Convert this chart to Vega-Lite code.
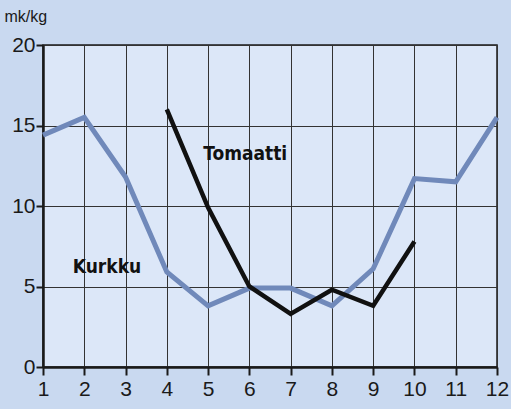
{
  "$schema": "https://vega.github.io/schema/vega-lite/v6.json",
  "width": 454,
  "height": 322,
  "autosize": {"type": "none"},
  "padding": {"left": 43, "top": 45, "right": 14, "bottom": 42},
  "background": "#c9d9f0",
  "config": {
    "view": {"fill": "#dce7f8", "stroke": "#1a1a1a", "strokeWidth": 1.5},
    "font": "Liberation Sans"
  },
  "datasets": {
    "series": [
      {"kk": 1, "hinta": 14.4, "tuote": "Kurkku"},
      {"kk": 2, "hinta": 15.5, "tuote": "Kurkku"},
      {"kk": 3, "hinta": 11.8, "tuote": "Kurkku"},
      {"kk": 4, "hinta": 5.9, "tuote": "Kurkku"},
      {"kk": 5, "hinta": 3.8, "tuote": "Kurkku"},
      {"kk": 6, "hinta": 4.9, "tuote": "Kurkku"},
      {"kk": 7, "hinta": 4.9, "tuote": "Kurkku"},
      {"kk": 8, "hinta": 3.8, "tuote": "Kurkku"},
      {"kk": 9, "hinta": 6.1, "tuote": "Kurkku"},
      {"kk": 10, "hinta": 11.7, "tuote": "Kurkku"},
      {"kk": 11, "hinta": 11.5, "tuote": "Kurkku"},
      {"kk": 12, "hinta": 15.5, "tuote": "Kurkku"},
      {"kk": 4, "hinta": 16.0, "tuote": "Tomaatti"},
      {"kk": 5, "hinta": 9.9, "tuote": "Tomaatti"},
      {"kk": 6, "hinta": 5.0, "tuote": "Tomaatti"},
      {"kk": 7, "hinta": 3.3, "tuote": "Tomaatti"},
      {"kk": 8, "hinta": 4.8, "tuote": "Tomaatti"},
      {"kk": 9, "hinta": 3.8, "tuote": "Tomaatti"},
      {"kk": 10, "hinta": 7.8, "tuote": "Tomaatti"}
    ],
    "labels": [
      {"kk": 5.9, "hinta": 13.2, "nimi": "Tomaatti"},
      {"kk": 2.55, "hinta": 6.2, "nimi": "Kurkku"}
    ]
  },
  "layer": [
    {
      "data": {"name": "series"},
      "mark": {"type": "line", "strokeJoin": "miter", "strokeCap": "butt"},
      "encoding": {
        "x": {
          "field": "kk", "type": "quantitative",
          "scale": {"domain": [1, 12], "nice": false, "zero": false},
          "axis": {
            "values": [1,2,3,4,5,6,7,8,9,10,11,12],
            "title": null,
            "grid": true, "gridColor": "#333333", "gridOpacity": 1, "gridWidth": 1,
            "domainColor": "#1a1a1a", "domainWidth": 2.5,
            "tickColor": "#1a1a1a", "tickWidth": 2, "tickSize": 8,
            "labelFontSize": 21, "labelColor": "#1a1a1a", "labelPadding": 3,
            "labelFlush": false
          }
        },
        "y": {
          "field": "hinta", "type": "quantitative",
          "scale": {"domain": [0, 20], "nice": false},
          "axis": {
            "values": [0, 5, 10, 15, 20],
            "title": "mk/kg", "titleAngle": 0, "titleAlign": "left", "titleBaseline": "middle",
            "titleX": -39, "titleY": -29, "titleFontSize": 16, "titleFontWeight": "normal", "titleColor": "#1a1a1a",
            "grid": true, "gridColor": "#333333", "gridOpacity": 1, "gridWidth": 1,
            "domainColor": "#1a1a1a", "domainWidth": 2.5,
            "tickColor": "#1a1a1a", "tickWidth": 2, "tickSize": 7,
            "labelFontSize": 21, "labelColor": "#1a1a1a", "labelPadding": 1
          }
        },
        "color": {
          "field": "tuote", "type": "nominal",
          "scale": {"domain": ["Kurkku", "Tomaatti"], "range": ["#7089ba", "#111111"]},
          "legend": null
        },
        "strokeWidth": {
          "field": "tuote", "type": "nominal",
          "scale": {"domain": ["Kurkku", "Tomaatti"], "range": [5, 4.5]},
          "legend": null
        }
      }
    },
    {
      "data": {"name": "labels"},
      "mark": {"type": "text", "fontSize": 19, "fontWeight": "bold", "font": "DejaVu Sans Condensed, Liberation Sans", "color": "#111111"},
      "encoding": {
        "x": {"field": "kk", "type": "quantitative"},
        "y": {"field": "hinta", "type": "quantitative"},
        "text": {"field": "nimi"}
      }
    }
  ]
}
